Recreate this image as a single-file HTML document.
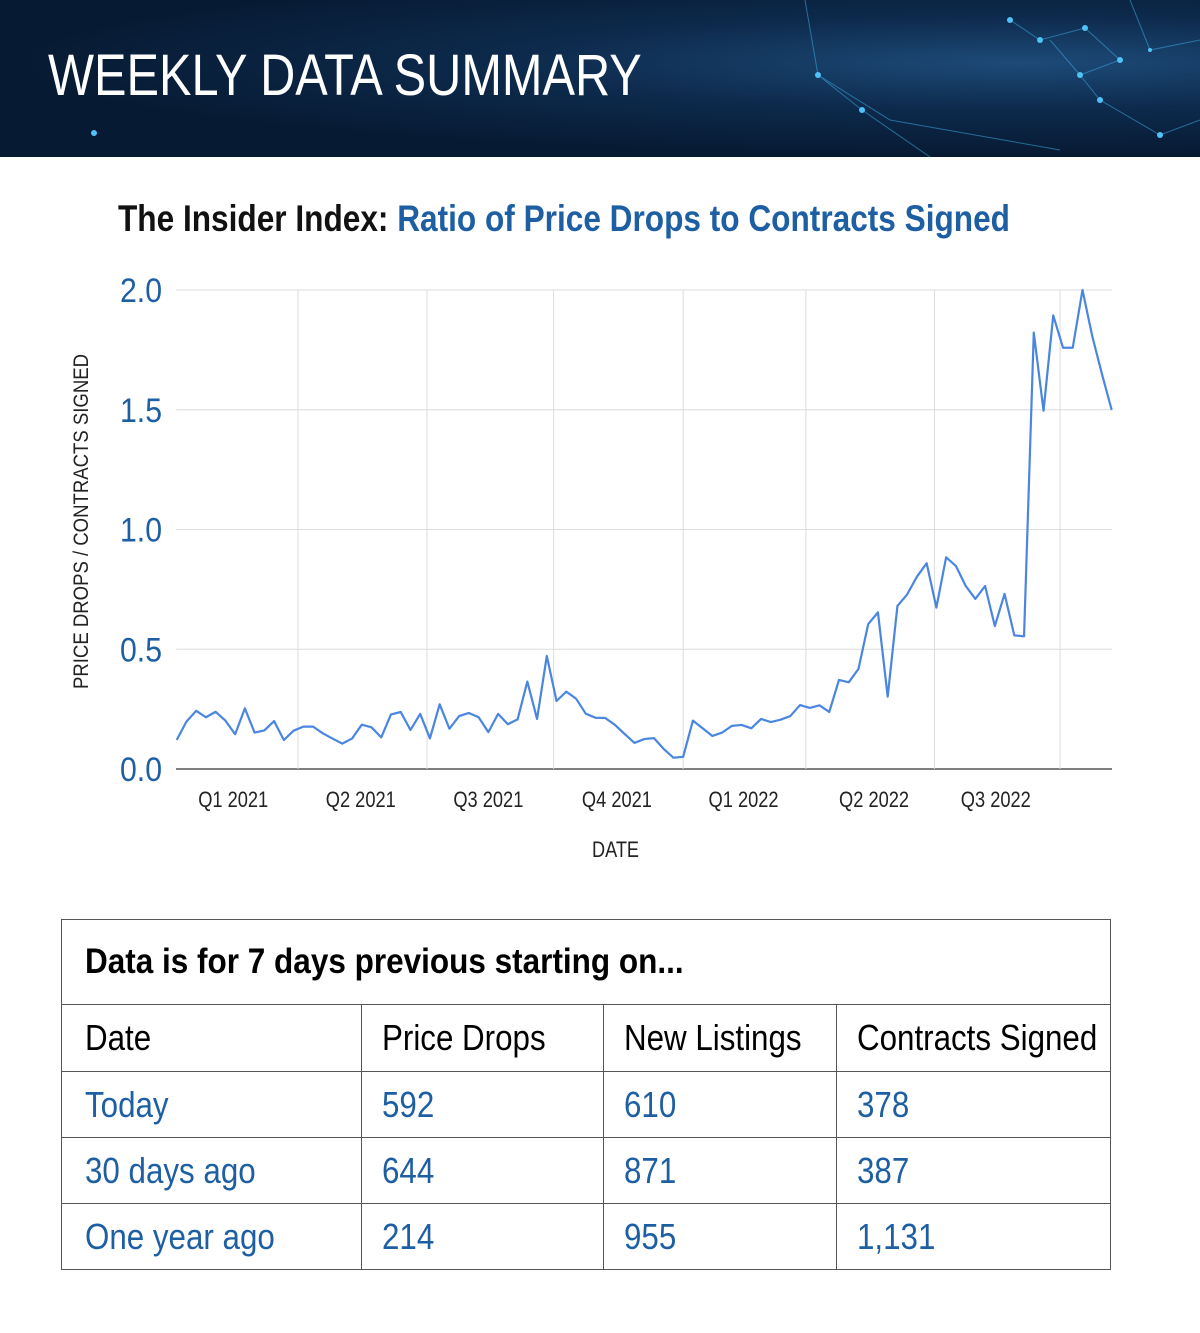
<!DOCTYPE html>
<html><head><meta charset="utf-8"><style>
body{margin:0;width:1200px;height:1333px;background:#fff;overflow:hidden;font-family:"Liberation Sans",sans-serif;}
#hdr{position:absolute;left:0;top:0;width:1200px;height:157px;background:radial-gradient(ellipse at 85% 40%,#1d4a78 0%,#0d2a4c 35%,#071a33 70%);}
#hdr h1{position:absolute;left:48px;top:42px;margin:0;color:#fff;font-weight:normal;font-size:58px;white-space:nowrap;transform:scaleX(0.84);transform-origin:left;}
table{position:absolute;left:61px;top:919px;width:1050px;border-collapse:collapse;font-size:36px;table-layout:fixed;}
td{border:1.5px solid #555;padding:0 0 0 20px;height:65px;white-space:nowrap;overflow:visible;}
td span{display:inline-block;transform:scaleX(0.87);transform-origin:left;}
.blue{color:#1e5fa3;}
</style></head><body>
<div id="hdr">
<svg width="1200" height="157" style="position:absolute;left:0;top:0">
<g stroke="#3aa0d8" stroke-width="1" opacity="0.6" fill="none">
<polyline points="805,0 818,75 862,110 930,157"/><polyline points="1010,20 1040,40 1085,28 1120,60 1080,75 1050,40"/><polyline points="1080,75 1100,100 1160,135 1200,120"/><polyline points="818,75 890,120 1060,150"/><polyline points="1130,0 1150,50 1200,40"/></g>
<g fill="#4fc3f7"><circle cx="818" cy="75" r="3"/><circle cx="862" cy="110" r="3"/><circle cx="1040" cy="40" r="3"/><circle cx="1085" cy="28" r="3"/><circle cx="1120" cy="60" r="3"/><circle cx="1080" cy="75" r="3"/><circle cx="1100" cy="100" r="3"/><circle cx="1160" cy="135" r="3"/><circle cx="94" cy="133" r="3"/><circle cx="1010" cy="20" r="3"/><circle cx="1150" cy="50" r="2"/></g></svg>
<h1>WEEKLY DATA SUMMARY</h1>
</div>
<svg id="chart" width="1200" height="900" style="position:absolute;left:0;top:0"></svg>
<table>
<colgroup><col style="width:300px"><col style="width:242px"><col style="width:233px"><col></colgroup>
<tr><td colspan="4" style="height:84px;font-weight:bold;font-size:35px;padding-left:23px"><span style="transform:scaleX(0.9)">Data is for 7 days previous starting on...</span></td></tr>
<tr><td style="height:66px;padding-left:23px"><span>Date</span></td><td><span>Price Drops</span></td><td><span>New Listings</span></td><td><span>Contracts Signed</span></td></tr>
<tr><td class="blue" style="padding-left:23px"><span>Today</span></td><td class="blue"><span>592</span></td><td class="blue"><span>610</span></td><td class="blue"><span>378</span></td></tr>
<tr><td class="blue" style="padding-left:23px"><span>30 days ago</span></td><td class="blue"><span>644</span></td><td class="blue"><span>871</span></td><td class="blue"><span>387</span></td></tr>
<tr><td class="blue" style="padding-left:23px"><span>One year ago</span></td><td class="blue"><span>214</span></td><td class="blue"><span>955</span></td><td class="blue"><span>1,131</span></td></tr>
</table>
<script>
const values=[0.121,0.198,0.243,0.216,0.239,0.202,0.145,0.253,0.152,0.161,0.200,0.121,0.160,0.177,0.177,0.149,0.127,0.106,0.127,0.185,0.174,0.132,0.228,0.238,0.163,0.230,0.128,0.270,0.168,0.221,0.234,0.216,0.154,0.230,0.187,0.207,0.365,0.209,0.472,0.284,0.323,0.294,0.231,0.214,0.213,0.184,0.146,0.109,0.125,0.129,0.084,0.047,0.051,0.202,0.170,0.138,0.152,0.180,0.184,0.170,0.209,0.196,0.206,0.221,0.267,0.255,0.266,0.238,0.372,0.362,0.418,0.605,0.654,0.302,0.681,0.729,0.803,0.859,0.674,0.884,0.848,0.765,0.710,0.764,0.597,0.731,0.558,0.554,1.822,1.496,1.894,1.759,1.759,2.0,1.808,1.649,1.499];
const yTicks=[0,0.5,1,1.5,2];
const yTickLabels=["0.0","0.5","1.0","1.5","2.0"];
const gridWeeks=[12.45,25.7,38.7,52,64.6,77.8,90.7];
const quarterLabels=["Q1 2021","Q2 2021","Q3 2021","Q4 2021","Q1 2022","Q2 2022","Q3 2022"];
const quarterLabelWeeks=[5.8,18.9,32,45.2,58.2,71.6,84.1];
const svg=document.getElementById('chart');const NS='http://www.w3.org/2000/svg';
const X0=176.7,X1=1111.7,Y0=769,Y1=290,PL=176,PR=1112;
const xs=i=>X0+i*(X1-X0)/(values.length-1);
const ys=v=>Y0+(Y1-Y0)*v/2;
function mk(t,a,txt){const e=document.createElementNS(NS,t);for(const k in a)e.setAttribute(k,a[k]);if(txt!==undefined)e.textContent=txt;svg.appendChild(e);return e;}
const F='"Liberation Sans",sans-serif';
let e=mk('text',{x:118,y:231,'font-family':F,'font-size':37,'font-weight':'bold',fill:'#111',textLength:892,lengthAdjust:'spacingAndGlyphs'});


e.innerHTML='The Insider Index: <tspan fill="#1e5fa3">Ratio of Price Drops to Contracts Signed</tspan>';
yTicks.forEach((t,i)=>{
 const g=mk('line',{x1:PL,x2:PR,y1:ys(t),y2:ys(t),stroke:t===0?'#555':'#dcdcdc','stroke-width':t===0?1.5:1});
 
 
 const l=mk('text',{x:120,y:ys(t)+12,'font-family':F,'font-size':34,fill:'#1e5fa3',textLength:42,lengthAdjust:'spacingAndGlyphs'},yTickLabels[i]);
 
 
});
gridWeeks.forEach(w=>{
 const g=mk('line',{x1:xs(w),x2:xs(w),y1:Y1,y2:Y0,stroke:'#dcdcdc','stroke-width':1});
 
 
});
quarterLabels.forEach((q,i)=>{
 const l=mk('text',{x:xs(quarterLabelWeeks[i])-35,y:807,'font-family':F,'font-size':22,fill:'#222',textLength:70,lengthAdjust:'spacingAndGlyphs'},q);
 
 
});
e=mk('text',{x:592,y:857,'font-family':F,'font-size':22,fill:'#222',textLength:47,lengthAdjust:'spacingAndGlyphs'},'DATE');


e=mk('text',{x:-167,y:0,'font-family':F,'font-size':21,fill:'#222',transform:'translate(88,522) rotate(-90)',textLength:335,lengthAdjust:'spacingAndGlyphs'},'PRICE DROPS / CONTRACTS SIGNED');


e=mk('polyline',{points:values.map((v,i)=>xs(i)+','+ys(v)).join(' '),fill:'none',stroke:'#4a86e0','stroke-width':2.2,'stroke-linejoin':'round'});


</script>
</body></html>
